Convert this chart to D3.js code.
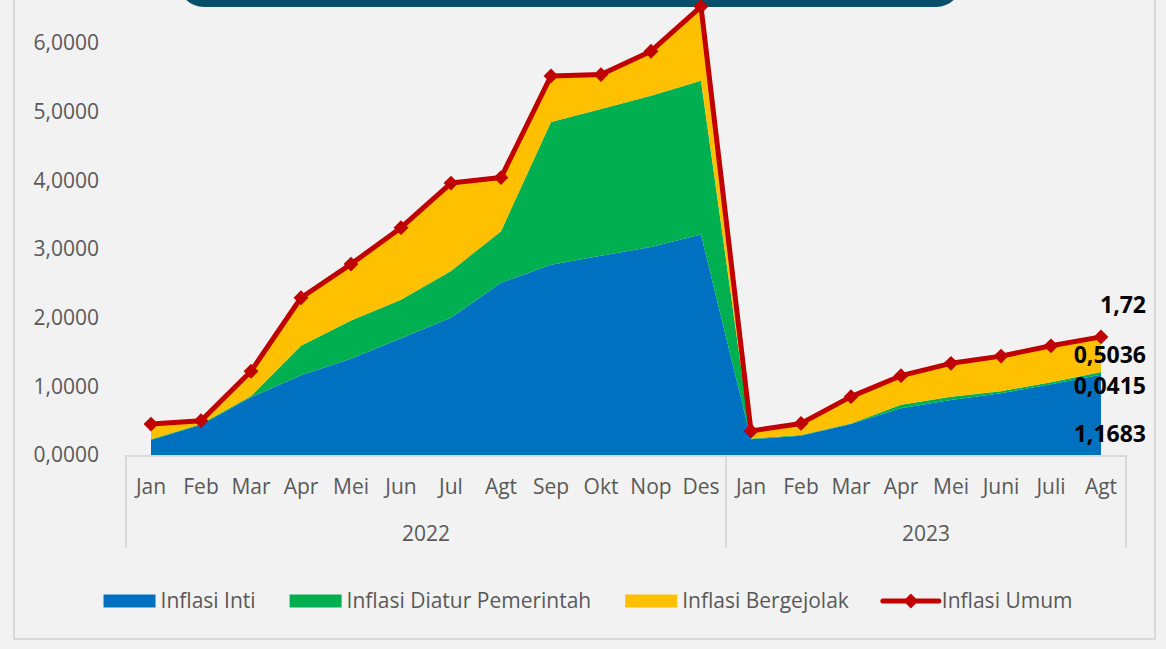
<!DOCTYPE html>
<html>
<head>
<meta charset="utf-8">
<script src="https://cdn.jsdelivr.net/npm/d3@7/dist/d3.min.js"></script>
<style>
  html, body { margin: 0; padding: 0; background: #f2f2f2; }
  svg { display: block; font-family: "Open Sans", "Noto Sans", sans-serif; }
</style>
</head>
<body>
<svg id="chart" width="1166" height="649"></svg>
<script>
// Inflasi kumulatif (ytd) per kelompok, Jan 2022 – Agt 2023.

const years = ["2022", "2023"];
const months2022 = ["Jan", "Feb", "Mar", "Apr", "Mei", "Jun", "Jul", "Agt", "Sep", "Okt", "Nop", "Des"];
const months2023 = ["Jan", "Feb", "Mar", "Apr", "Mei", "Juni", "Juli", "Agt"];

const inti = [0.22, 0.44, 0.84, 1.16, 1.40, 1.70, 2.00, 2.51, 2.77, 2.90, 3.03, 3.21,
              0.23, 0.28, 0.45, 0.68, 0.80, 0.90, 1.03, 1.1683];
const diatur = [0.01, 0.01, 0.02, 0.43, 0.56, 0.56, 0.68, 0.75, 2.08, 2.14, 2.20, 2.24,
                0.01, 0.01, 0.01, 0.05, 0.05, 0.03, 0.03, 0.0415];
const bergejolak = [0.22, 0.05, 0.36, 0.70, 0.82, 1.05, 1.28, 0.78, 0.67, 0.50, 0.65, 1.08,
                    0.11, 0.17, 0.39, 0.43, 0.49, 0.51, 0.53, 0.5036];
const umum = [0.45, 0.50, 1.22, 2.29, 2.78, 3.31, 3.96, 4.04, 5.52, 5.54, 5.88, 6.53,
              0.35, 0.46, 0.85, 1.155, 1.335, 1.44, 1.59, 1.72];

const yTicks = [0, 1, 2, 3, 4, 5, 6];

const seriesNames = ["Inflasi Inti", "Inflasi Diatur Pemerintah", "Inflasi Bergejolak", "Inflasi Umum"];
const COLORS = { inti: "#0070c0", diatur: "#00b050", bergejolak: "#ffc000", umum: "#c00000" };
const TEXT = "#595959";
const FS = 21;

const rows = [
  ...months2022.map((m, i) => ({ key: `2022-${i}`, month: m, year: "2022" })),
  ...months2023.map((m, i) => ({ key: `2023-${i}`, month: m, year: "2023" })),
].map((r, i) => ({ ...r, inti: inti[i], diatur: diatur[i], bergejolak: bergejolak[i], umum: umum[i] }));

const svg = d3.select("#chart");
const W = 1166, H = 649;
const PLOT = { left: 126, right: 1126, zero: 455, unit: 68.67 };

svg.append("rect").attr("width", W).attr("height", H).attr("fill", "#f2f2f2");

// chart frame (top is cut off in the reference)
svg.append("rect")
  .attr("x", 14).attr("y", -20).attr("width", 1141).attr("height", 659)
  .attr("fill", "none").attr("stroke", "#d9d9d9").attr("stroke-width", 2);

// dark title banner, mostly off-screen
svg.append("rect")
  .attr("x", 178).attr("y", -50).attr("width", 784).attr("height", 57)
  .attr("rx", 26).attr("fill", "#07506a");

const x = d3.scaleBand().domain(rows.map(d => d.key)).range([PLOT.left, PLOT.right]).padding(0);
const cx = k => x(k) + x.bandwidth() / 2;
const y = d3.scaleLinear().domain([0, 7]).range([PLOT.zero, PLOT.zero - 7 * PLOT.unit]);

// stacked areas
const stack = d3.stack().keys(["inti", "diatur", "bergejolak"]);
const layers = stack(rows);
const area = d3.area()
  .x(d => cx(d.data.key))
  .y0(d => y(d[0]))
  .y1(d => y(d[1]));

svg.append("g").selectAll("path")
  .data(layers)
  .join("path")
  .attr("fill", d => COLORS[d.key])
  .attr("d", area);

// y axis
const fmt = v => d3.format(".4f")(v).replace(".", ",");
const gy = svg.append("g")
  .attr("transform", `translate(${PLOT.left},0)`)
  .call(d3.axisLeft(y).tickValues(yTicks).tickSize(0).tickPadding(27).tickFormat(fmt));
gy.select(".domain").remove();
gy.selectAll("text").attr("fill", TEXT).attr("font-size", FS).attr("font-family", "Open Sans");

// x axis: months
const gx = svg.append("g")
  .attr("transform", `translate(0,${PLOT.zero})`)
  .call(d3.axisBottom(x).tickSize(0).tickPadding(24).tickFormat(k => rows.find(r => r.key === k).month));
gx.select(".domain").remove();
gx.selectAll("text").attr("fill", TEXT).attr("font-size", FS).attr("font-family", "Open Sans");

svg.append("line")
  .attr("x1", PLOT.left).attr("x2", PLOT.right)
  .attr("y1", PLOT.zero + 1).attr("y2", PLOT.zero + 1)
  .attr("stroke", "#d9d9d9").attr("stroke-width", 2);

// year groups
const yearSpans = years.map(yr => {
  const ks = rows.filter(r => r.year === yr).map(r => r.key);
  return { year: yr, x0: x(ks[0]), x1: x(ks[ks.length - 1]) + x.bandwidth() };
});
const dividers = [yearSpans[0].x0, ...yearSpans.map(s => s.x1)];
svg.append("g").selectAll("line")
  .data(dividers)
  .join("line")
  .attr("x1", d => d).attr("x2", d => d)
  .attr("y1", PLOT.zero).attr("y2", PLOT.zero + 93)
  .attr("stroke", "#d9d9d9").attr("stroke-width", 2);

svg.append("g").selectAll("text")
  .data(yearSpans)
  .join("text")
  .attr("x", d => (d.x0 + d.x1) / 2)
  .attr("y", PLOT.zero + 86)
  .attr("text-anchor", "middle")
  .attr("fill", TEXT).attr("font-size", FS)
  .text(d => d.year);

// Inflasi Umum line with diamond markers
const line = d3.line().x(d => cx(d.key)).y(d => y(d.umum));
svg.append("path")
  .datum(rows)
  .attr("fill", "none")
  .attr("stroke", COLORS.umum)
  .attr("stroke-width", 5)
  .attr("stroke-linejoin", "round")
  .attr("d", line);

const diamond = d3.symbol().type(d3.symbolSquare).size(110);
svg.append("g").selectAll("path")
  .data(rows)
  .join("path")
  .attr("transform", d => `translate(${cx(d.key)},${y(d.umum)}) rotate(45)`)
  .attr("fill", COLORS.umum)
  .attr("d", diamond);

// data labels for the last month
const last = rows[rows.length - 1];
const lx = cx(last.key) + 45;
const dataLabels = [
  { text: fmt(last.bergejolak), yy: y(last.inti + last.diatur + last.bergejolak / 2) },
  { text: fmt(last.diatur), yy: y(last.inti + last.diatur) + 14 },
  { text: fmt(last.inti), yy: y(0) - 21 },
  { text: String(last.umum).replace(".", ","), yy: y(last.umum) - 32 },
];
svg.append("g").selectAll("text")
  .data(dataLabels)
  .join("text")
  .attr("x", lx)
  .attr("y", d => d.yy)
  .attr("dy", "0.35em")
  .attr("text-anchor", "end")
  .attr("font-size", 23)
  .attr("font-weight", 700)
  .attr("fill", "#000")
  .text(d => d.text);

// legend
const legend = svg.append("g").attr("transform", "translate(0,601)");
const items = seriesNames.map((name, i) => ({ name, color: Object.values(COLORS)[i], isLine: i === 3 }));
const sw = 52, swGap = 5, itemGap = 34;
let cursor = 0;
const placed = items.map(it => {
  const g = legend.append("g");
  if (it.isLine) {
    g.append("line").attr("x1", 0).attr("x2", sw + 4).attr("y1", 0).attr("y2", 0)
      .attr("stroke", it.color).attr("stroke-width", 5).attr("stroke-linecap", "round");
    g.append("path").attr("transform", `translate(${(sw + 4) / 2},0) rotate(45)`)
      .attr("fill", it.color).attr("d", diamond);
  } else {
    g.append("rect").attr("x", 0).attr("y", -6.5).attr("width", sw).attr("height", 13).attr("fill", it.color);
  }
  const t = g.append("text")
    .attr("x", sw + swGap + (it.isLine ? 2 : 0)).attr("dy", "0.35em")
    .attr("fill", TEXT).attr("font-size", FS)
    .text(it.name);
  const w = sw + swGap + (it.isLine ? 2 : 0) + t.node().getComputedTextLength();
  const start = cursor;
  cursor += w + itemGap;
  return { g, start };
});
const totalW = cursor - itemGap;
const offset = 588 - totalW / 2;
placed.forEach(p => p.g.attr("transform", `translate(${offset + p.start},0)`));
</script>
</body>
</html>
